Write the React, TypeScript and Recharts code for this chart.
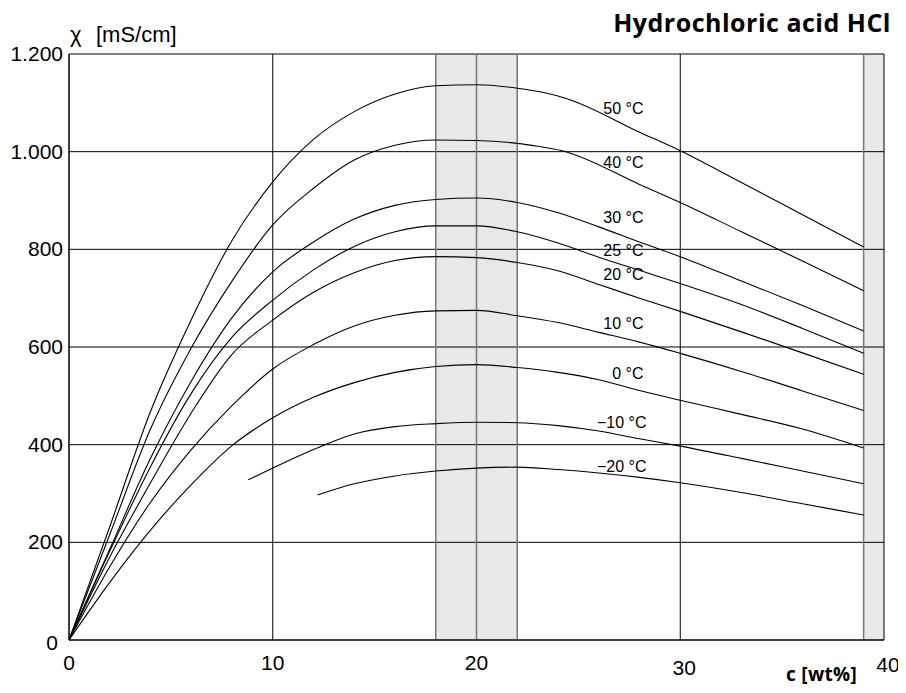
import { LineChart, Line, XAxis, YAxis, CartesianGrid, ReferenceArea, ReferenceLine } from "recharts";

// concentration c [wt%] sample points
const xShared = [0, 2, 4, 6, 8, 10, 12, 14, 16, 18, 20, 22, 24, 26, 28, 30, 33, 36, 39];
const x50 = [0, 2, 4, 6, 8, 10, 12, 14, 16, 18, 20, 22, 23.3, 24.4, 28, 30, 33, 36, 39];
const x40 = [0, 2, 4, 6, 8, 10, 12, 14, 16, 18, 20, 22, 23, 24.2, 28, 30, 33, 36, 39];
const xMinus10 = [8.8, 10, 12, 14, 16, 18, 20, 22, 24, 26, 28, 30, 33, 36, 39];
const xMinus20 = [12.2, 14, 16, 18, 20, 22, 24, 26, 28, 30, 33, 36, 39];

// conductivity chi [mS/cm]
const y50 = [0, 232, 468, 656, 818, 938, 1025, 1082, 1118, 1135, 1137, 1130, 1121, 1109, 1040, 1002, 937, 871, 805];
const y40 = [0, 216, 432, 598, 735, 850, 925, 983, 1013, 1024, 1023, 1017, 1011, 1002, 933, 896, 836, 776, 715];
const y30 = [0, 186, 372, 530, 660, 754, 815, 862, 890, 902, 905, 896, 875, 846, 815, 785, 735, 685, 633];
const y25 = [0, 182, 355, 505, 620, 696, 758, 806, 836, 848, 848, 836, 813, 784, 757, 730, 687, 638, 587];
const y20 = [0, 170, 322, 465, 585, 655, 712, 752, 777, 785, 783, 773, 756, 728, 700, 673, 631, 588, 544];
const y10 = [0, 150, 282, 390, 480, 555, 605, 643, 665, 674, 675, 664, 650, 630, 610, 587, 550, 510, 470];
const y0 = [0, 118, 225, 318, 398, 455, 497, 527, 548, 560, 564, 558, 548, 533, 511, 491, 462, 432, 393];
const yMinus10 = [328, 352, 390, 422, 437, 443, 446, 445, 439, 428, 412, 397, 372, 346, 320];
const yMinus20 = [297, 320, 336, 346, 352, 354, 349, 342, 333, 322, 302, 279, 256];

const xTicks = [0, 10, 20, 30, 40];
const yTicks = [0, 200, 400, 600, 800, 1000, 1200];
const bands = [
  [18, 22],
  [39, 40],
];
const bandEdges = [18, 20, 22, 39];
const LABEL_AT = 28;

const toPoints = (xs: number[], ys: number[]) => xs.map((x, i) => ({ x, y: ys[i] }));

const curves = [
  { name: "50 °C", data: toPoints(x50, y50), dy: -18, dx: 4 },
  { name: "40 °C", data: toPoints(x40, y40), dy: -16, dx: 4 },
  { name: "30 °C", data: toPoints(xShared, y30), dy: -19, dx: 4 },
  { name: "25 °C", data: toPoints(xShared, y25), dy: -14, dx: 4 },
  { name: "20 °C", data: toPoints(xShared, y20), dy: -18, dx: 4 },
  { name: "10 °C", data: toPoints(xShared, y10), dy: -13, dx: 4 },
  { name: "0 °C", data: toPoints(xShared, y0), dy: -11, dx: 4 },
  { name: "−10 °C", data: toPoints(xMinus10, yMinus10), dy: -11, dx: 7 },
  { name: "−20 °C", data: toPoints(xMinus20, yMinus20), dy: -5, dx: 7 },
];

const FONT = "'Liberation Sans', Arial, sans-serif";
const BOLD_FONT = "'Open Sans', sans-serif";

const fmtY = (v: number) =>
  v >= 1000 ? `${Math.floor(v / 1000)}.${String(v % 1000).padStart(3, "0")}` : String(v);

const XTick = (props: any) => {
  const { x, y, payload } = props;
  const v = payload.value;
  const shift = v === 30 ? [4, 35] : v === 40 ? [4, 32] : [0, 30];
  return (
    <text x={x + shift[0]} y={y + shift[1]} textAnchor="middle" fontSize={21} fontFamily={FONT} fill="#000">
      {v}
    </text>
  );
};

const YTick = (props: any) => {
  const { x, y, payload } = props;
  const v = payload.value;
  const shift = v === 0 ? [-5, 10] : [0, 7];
  return (
    <text x={x + shift[0]} y={y + shift[1]} textAnchor="end" fontSize={21} fontFamily={FONT} fill="#000">
      {fmtY(v)}
    </text>
  );
};

// draws the temperature label next to the point at c = LABEL_AT, nothing elsewhere
const curveDot = (name: string, dx: number, dy: number) => (p: any) => {
  const key = `${name}-${p.index}`;
  if (p.payload.x !== LABEL_AT) return <g key={key} />;
  return (
    <text key={key} x={p.cx + dx} y={p.cy + dy} textAnchor="end" fontSize={16} fontFamily={FONT} fill="#000">
      {name}
    </text>
  );
};

export default function App() {
  return (
    <div style={{ position: "relative", width: 906, height: 693, margin: -8, overflow: "hidden", background: "#fff" }}>
      <LineChart width={906} height={693} margin={{ top: 54, right: 22, bottom: 23, left: 9 }}>
        <CartesianGrid stroke="#000" strokeWidth={1} />
        {bands.map(([a, b]) => (
          <ReferenceArea key={a} x1={a} x2={b} fill="#000" fillOpacity={0.09} stroke="none" />
        ))}
        {bandEdges.map((v) => (
          <ReferenceLine key={v} x={v} stroke="#777" strokeWidth={1.5} />
        ))}
        <XAxis
          type="number"
          dataKey="x"
          domain={[0, 40]}
          ticks={xTicks}
          allowDataOverflow
          height={30}
          tickSize={0}
          tickMargin={0}
          axisLine={{ stroke: "#000" }}
          tick={<XTick />}
        />
        <YAxis
          type="number"
          domain={[0, 1200]}
          ticks={yTicks}
          width={60}
          tickSize={0}
          tickMargin={6}
          axisLine={{ stroke: "#000" }}
          tick={<YTick />}
        />
        {curves.map((c) => (
          <Line
            key={c.name}
            data={c.data}
            dataKey="y"
            type="monotone"
            stroke="#000"
            strokeWidth={1.1}
            dot={curveDot(c.name, c.dx, c.dy)}
            activeDot={false}
            isAnimationActive={false}
          />
        ))}
      </LineChart>
      <svg width={906} height={693} style={{ position: "absolute", left: 0, top: 0, pointerEvents: "none" }}>
        <text x={891} y={32} textAnchor="end" fontSize={25} letterSpacing={0.5} fontWeight={700} fontFamily={BOLD_FONT} fill="#000">
          Hydrochloric acid HCl
        </text>
        <text x={70} y={42} fontSize={22} fontFamily={FONT} fill="#000">
          χ
        </text>
        <text x={96} y={42} fontSize={22} fontFamily={FONT} fill="#000">
          [mS/cm]
        </text>
        <text x={857} y={681} textAnchor="end" fontSize={19} letterSpacing={0.3} fontWeight={700} fontFamily={BOLD_FONT} fill="#000">
          c [wt%]
        </text>
      </svg>
    </div>
  );
}
